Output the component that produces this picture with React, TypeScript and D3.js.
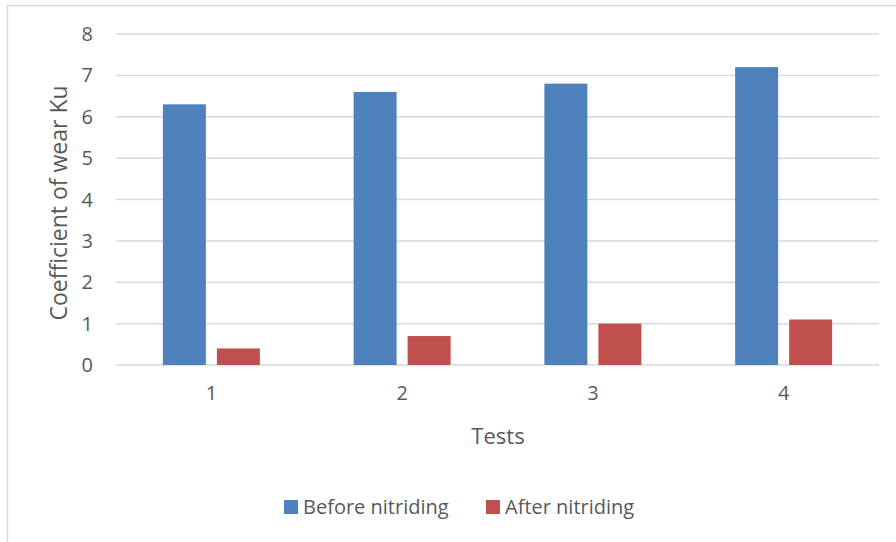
import React from "react";
import * as d3 from "d3";

const categories = ["1", "2", "3", "4"];
const beforeNitriding = [6.3, 6.6, 6.8, 7.2];
const afterNitriding = [0.4, 0.7, 1.0, 1.1];
const yTicks = [0, 1, 2, 3, 4, 5, 6, 7, 8];
const seriesNames = ["Before nitriding", "After nitriding"];
const seriesColors = ["#4F81BD", "#C0504D"];

const W = 896;
const H = 542;
const plot = { left: 116, right: 879, top: 34, bottom: 365 };
const font = "'Open Sans', 'Liberation Sans', sans-serif";
const textColor = "#595959";
const gridColor = "#D9D9D9";

export default function App() {
  const x = d3.scaleBand<string>().domain(categories).range([plot.left, plot.right]);
  const y = d3.scaleLinear().domain([0, 8]).range([plot.bottom, plot.top]);
  const barW = 43;
  const gap = 11;
  const series = [beforeNitriding, afterNitriding];

  return (
    <div style={{ position: "fixed", left: 0, top: 0, width: W, height: H, background: "#fff" }}>
      <svg width={W} height={H} style={{ display: "block" }}>
        <rect x={7.5} y={5.5} width={W + 10} height={H + 10} fill="#fff" stroke={gridColor} strokeWidth={1.5} />
        {yTicks.map((t) => (
          <g key={t}>
            <line x1={plot.left} x2={plot.right} y1={y(t)} y2={y(t)} stroke={gridColor} strokeWidth={1.5} />
            <text x={93} y={y(t)} dy="0.35em" textAnchor="end" fontFamily={font} fontSize={20} fill={textColor}>
              {t}
            </text>
          </g>
        ))}
        {categories.map((c, i) => {
          const cx = (x(c) as number) + x.bandwidth() / 2;
          return (
            <g key={c}>
              {series.map((vals, s) => {
                const bx = s === 0 ? cx - gap / 2 - barW : cx + gap / 2;
                return (
                  <rect
                    key={s}
                    x={bx}
                    y={y(vals[i])}
                    width={barW}
                    height={y(0) - y(vals[i])}
                    fill={seriesColors[s]}
                  />
                );
              })}
              <text x={cx} y={400} textAnchor="middle" fontFamily={font} fontSize={20} fill={textColor}>
                {c}
              </text>
            </g>
          );
        })}
        <text
          transform={`translate(67, 203) rotate(-90)`}
          textAnchor="middle"
          fontFamily={font}
          fontSize={23}
          fill={textColor}
        >
          Coefficient of wear Ku
        </text>
        <text x={498} y={444} textAnchor="middle" fontFamily={font} fontSize={22} fill={textColor}>
          Tests
        </text>
        {seriesNames.map((name, s) => {
          const lx = s === 0 ? 284 : 486;
          return (
            <g key={name}>
              <rect x={lx} y={500} width={14} height={14} fill={seriesColors[s]} />
              <text x={lx + 19} y={514} fontFamily={font} fontSize={20} fill={textColor}>
                {name}
              </text>
            </g>
          );
        })}
      </svg>
    </div>
  );
}
